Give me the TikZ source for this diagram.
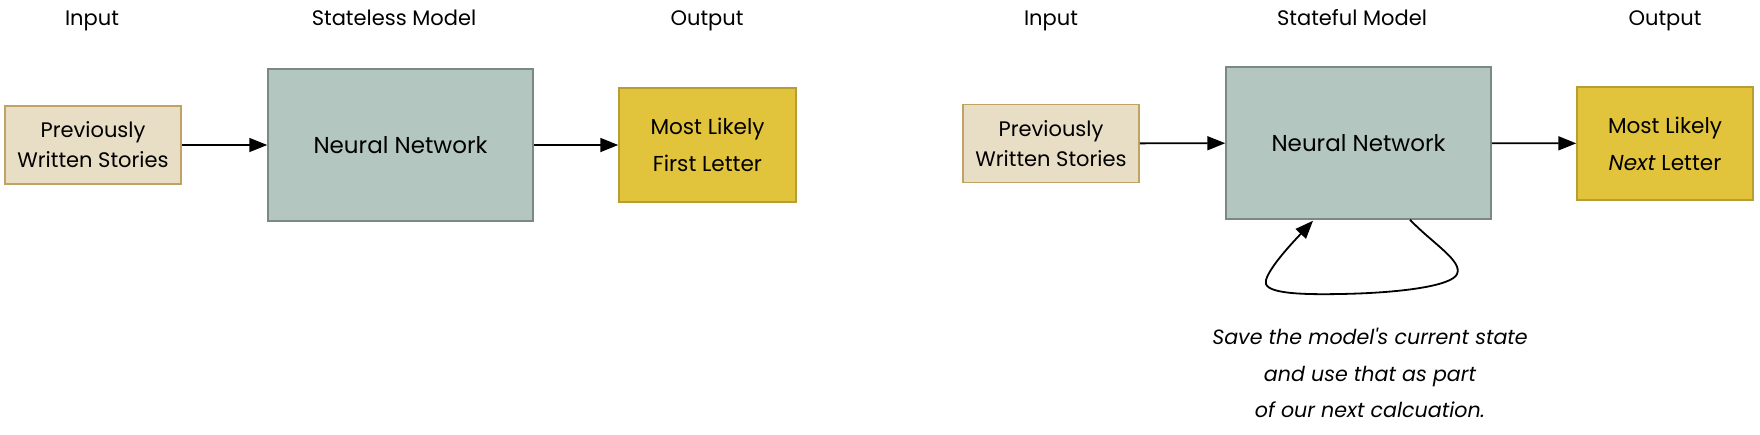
\documentclass[tikz,border=0pt]{standalone}
\usepackage{fontspec}
\setmainfont{Poppins}
\usetikzlibrary{arrows.meta,calc}
\definecolor{inFill}{RGB}{232,221,197}
\definecolor{inLine}{RGB}{190,163,98}
\definecolor{nnFill}{RGB}{179,199,192}
\definecolor{nnLine}{RGB}{122,137,132}
\definecolor{outFill}{RGB}{226,196,60}
\definecolor{outLine}{RGB}{184,158,50}
\newcommand{\straightq}{\XeTeXglyph\XeTeXglyphindex"quotesingle"\relax}
\begin{document}
\begin{tikzpicture}[x=1pt,y=-1pt,
  box/.style={draw,line width=1.5pt,inner sep=0pt,align=center,
    font=\fontsize{21}{30}\selectfont},
  inbox/.style={box,fill=inFill,draw=inLine,minimum width=176pt,minimum height=78pt},
  nnbox/.style={box,fill=nnFill,draw=nnLine,minimum width=265pt,minimum height=152pt,
    font=\fontsize{23}{30}\selectfont},
  outbox/.style={box,fill=outFill,draw=outLine,minimum width=177pt,minimum height=114pt,
    font=\fontsize{21.6}{37}\selectfont},
  title/.style={anchor=base,font=\fontsize{21}{26}\selectfont},
  arr/.style={line width=1.8pt,-{Triangle[length=18pt,width=14pt]}},
  caption/.style={align=center,font=\fontsize{20.6}{36.5}\selectfont\itshape}
]
\useasboundingbox (0,0) rectangle (1760,434);
% left diagram
\node[title] (t1) at (92,25) {Input};
\node[title] (t2) at (394,25) {Stateless Model};
\node[title] (t3) at (707,25) {Output};
\node[inbox] (in1) at (93,145) {Previously\\Written Stories};
\node[nnbox] (nn1) at (400.5,145) {Neural Network};
\node[outbox] (out1) at (707.5,145) {Most Likely\\First Letter};
\draw[arr] (in1) -- (nn1);
\draw[arr] (nn1) -- (out1);
% right diagram
\node[title] (t4) at (1051,25) {Input};
\node[title] (t5) at (1352,25) {Stateful Model};
\node[title] (t6) at (1665,25) {Output};
\node[inbox] (in2) at (1051,143.5) {Previously\\Written Stories};
\node[nnbox] (nn2) at (1358.5,143) {Neural Network};
\node[outbox,minimum width=176pt,minimum height=113pt] (out2) at (1665,143.5) {Most Likely\\\textit{Next} Letter};
\draw[arr] (in2) -- (nn2);
\draw[arr] (nn2) -- (out2);
\coordinate (ls) at ([xshift=51.5pt]nn2.south);
\coordinate (le) at ([xshift=-45.5pt,yshift=-1pt]nn2.south);
\draw[arr] (ls) .. controls (1432,243) and (1463,261) .. (1457,274)
  .. controls (1452,286) and (1400,293) .. (1340,294)
  .. controls (1290,295) and (1262,292) .. (1266,280)
  .. controls (1270,266) and (1295,240) .. (le);
\node[caption] (cap) at (1370,373) {Save the model\straightq s current state\\and use that as part\\of our next calcuation.};
\end{tikzpicture}
\end{document}
